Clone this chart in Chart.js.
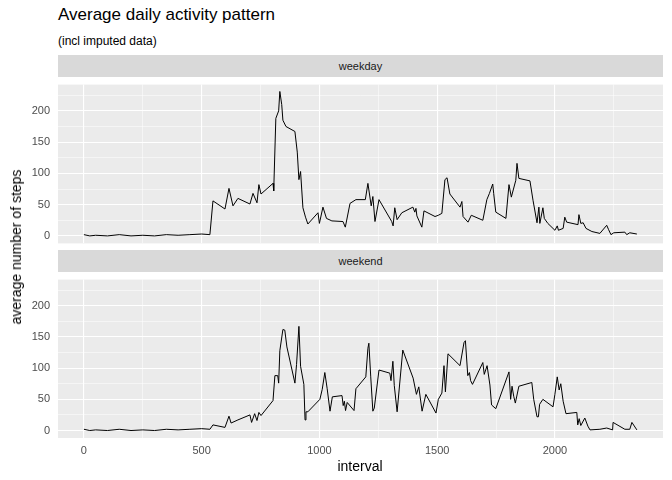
<!DOCTYPE html>
<html><head><meta charset="utf-8">
<script src="https://cdn.jsdelivr.net/npm/chart.js@4"></script>
<style>
body{margin:0;width:672px;height:480px;background:#fff;font-family:"Liberation Sans",Arial,sans-serif;position:relative;overflow:hidden}
.abs{position:absolute}
.strip{position:absolute;left:58px;width:605px;height:22px;background:#D9D9D9;color:#1A1A1A;font-size:11px;line-height:22px;text-align:center}
canvas{position:absolute;left:0}
</style></head><body>
<div class="abs" style="left:0;top:70px;width:672px;height:188px"><canvas id="c1"></canvas></div>
<div class="abs" style="left:0;top:265px;width:672px;height:200px"><canvas id="c2"></canvas></div>
<div class="abs" style="left:58px;top:5px;font-size:17px;color:#000">Average daily activity pattern</div>
<div class="abs" style="left:58px;top:34px;font-size:12px;color:#000">(incl imputed data)</div>
<div class="strip" style="top:55px">weekday</div>
<div class="strip" style="top:250px">weekend</div>
<div class="abs" style="left:16px;top:247px;transform:translate(-50%,-50%) rotate(-90deg);font-size:14px;white-space:nowrap;color:#000">average number of steps</div>
<div class="abs" style="left:360px;top:458px;transform:translateX(-50%);font-size:14px;color:#000">interval</div>
<script>
const xTicks=[0,250,500,750,1000,1250,1500,1750,2000,2250];
const yTicks=[0,25,50,75,100,125,150,175,200,225];
const weekdayIntervals=[0,25,50,100,150,200,250,300,350,400,450,500,535,548,599,616,633,654,705,718,735,743,752,803,806,815,827,832,840,845,858,896,906,913,920,930,941,951,994,1000,1015,1030,1053,1100,1110,1130,1155,1195,1206,1220,1227,1236,1253,1307,1313,1320,1330,1350,1397,1405,1410,1414,1435,1444,1491,1505,1520,1533,1542,1554,1597,1605,1610,1631,1645,1694,1711,1722,1736,1740,1749,1792,1805,1815,1834,1839,1847,1894,1907,1924,1932,1936,1949,1955,1970,2000,2010,2015,2035,2042,2050,2098,2102,2110,2120,2132,2157,2191,2220,2228,2238,2250,2297,2305,2318,2348];
const weekdaySteps=[2,0,1,0,2,0,1,0,2,1,2,3,2,56,43,76,48,60,51,68,53,82,67,84,72,188,200,231,210,185,175,167,134,90,103,45,30,19,37,20,46,28,24,23,14,52,58,58,84,48,63,23,58,23,16,45,26,37,46,38,44,32,14,40,31,33,36,90,93,67,46,55,31,22,33,25,58,68,83,68,38,28,82,62,89,116,92,88,57,21,46,20,45,28,20,9,16,9,12,30,22,18,34,20,21,12,7,4,17,10,2,5,6,2,5,3];
const weekendIntervals=[0,25,50,100,150,200,250,300,350,400,450,500,535,548,599,616,625,654,705,712,725,735,743,752,803,811,823,827,832,845,853,862,896,903,913,920,934,939,943,951,1002,1012,1023,1033,1045,1055,1096,1101,1106,1111,1118,1147,1155,1197,1206,1210,1218,1227,1233,1253,1299,1304,1312,1318,1330,1354,1398,1412,1422,1436,1452,1495,1505,1520,1529,1535,1546,1597,1614,1620,1630,1637,1642,1650,1694,1700,1712,1724,1731,1749,1805,1812,1818,1825,1832,1847,1902,1910,1924,1930,1935,1949,1992,2000,2010,2018,2025,2035,2047,2093,2097,2103,2110,2127,2140,2149,2191,2220,2245,2247,2297,2318,2327,2348];
const weekendSteps=[2,0,1,0,2,0,1,0,2,1,2,3,2,9,5,23,12,17,25,13,27,16,29,24,48,88,88,76,128,162,161,134,76,106,167,103,74,17,30,30,50,66,93,67,31,54,56,40,47,32,45,32,67,86,132,140,86,31,36,97,92,80,111,72,30,129,84,58,70,31,58,28,50,60,104,62,123,104,141,144,88,93,80,74,109,90,104,73,41,35,94,50,71,55,44,71,77,50,22,22,42,50,38,58,86,65,75,47,27,29,9,19,8,20,7,1,2,4,1,13,2,2,13,1];
const bgPlugin={id:'bg',beforeDraw(c){const a=c.chartArea,x=c.ctx;x.save();x.fillStyle='#EBEBEB';x.fillRect(a.left,a.top,a.right-a.left,a.bottom-a.top);x.restore();}};
function make(id,xs,ys,showX,h){
  const pts=xs.map((v,i)=>({x:v,y:ys[i]}));
  new Chart(document.getElementById(id),{type:'line',
    data:{datasets:[{data:pts,borderColor:'#000',borderWidth:1,pointRadius:0,tension:0,fill:false}]},
    options:{responsive:true,maintainAspectRatio:false,animation:false,
      layout:{padding:{top:2,right:9,bottom:showX?0:8,left:0}},
      plugins:{legend:{display:false},tooltip:{enabled:false}},
      scales:{
        x:{type:'linear',min:-110,max:2459,border:{display:false},
          afterBuildTicks(s){s.ticks=xTicks.map(v=>({value:v}));},
          afterFit(s){s.height=showX?(h-8-165):0;},
          grid:{color:'#fff',lineWidth:c=>c.tick&&c.tick.value%500===0?1.1:0.5,drawTicks:false},
          ticks:{display:showX,color:'#4D4D4D',font:{size:11,family:'Liberation Sans'},padding:6,maxRotation:0,autoSkip:false,callback:v=>v%500===0?String(v):''}},
        y:{type:'linear',min:-12,max:242,border:{display:false},
          afterBuildTicks(s){s.ticks=yTicks.map(v=>({value:v}));},
          afterFit(s){s.width=58;},
          grid:{color:'#fff',lineWidth:c=>c.tick&&c.tick.value%50===0?1.1:0.5,drawTicks:false},
          ticks:{color:'#4D4D4D',font:{size:11,family:'Liberation Sans'},padding:8,autoSkip:false,callback:v=>v%50===0?String(v):''}}
      }},plugins:[bgPlugin]});
}
make('c1',weekdayIntervals,weekdaySteps,false,188);
make('c2',weekendIntervals,weekendSteps,true,200);
</script></body></html>
